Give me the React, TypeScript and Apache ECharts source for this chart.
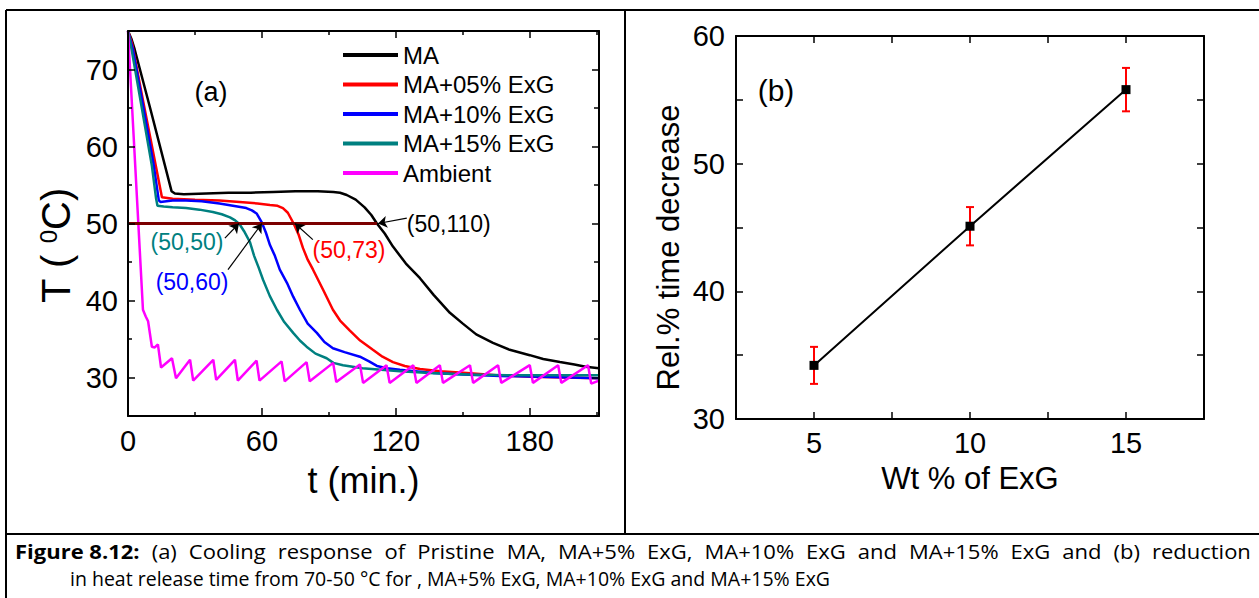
import React, { useEffect, useRef } from 'react';
import * as echarts from 'echarts';

// ---------- Panel (a): cooling curves ----------
const maTime = [0, 1.5, 3, 10, 19.5, 21, 25, 35, 45, 55, 65, 75, 85, 92, 95, 98, 102, 106, 109, 111.5, 115, 118.7, 124.5, 130.8, 137, 144.2, 150, 156, 163.5, 171, 180, 186, 193.5, 200, 205, 211];
const maTemp = [75, 74.0, 72.6, 64.9, 54.2, 53.9, 53.8, 53.9, 54.0, 54.0, 54.1, 54.2, 54.2, 54.1, 54.0, 53.7, 53.1, 52.1, 51.1, 50.0, 48.7, 47.0, 44.8, 42.9, 40.7, 38.4, 37.0, 35.6, 34.5, 33.6, 32.9, 32.4, 32.0, 31.7, 31.4, 31.2];

const ma05Time = [0, 1.8, 6.7, 13, 15.2, 20, 30, 41, 50, 58, 63.6, 67, 69.4, 71.6, 74.2, 76.5, 78.4, 80.5, 82.9, 87.4, 91.8, 95, 99.4, 104, 109.7, 114, 118.7, 124, 130.8, 140, 151.8, 165, 181, 195, 211];
const ma05Temp = [75, 73.4, 66.0, 56.7, 53.4, 53.2, 53.1, 53.0, 52.8, 52.6, 52.4, 52.3, 52.0, 51.4, 50.0, 48.5, 46.8, 45.3, 44.0, 41.4, 38.8, 37.4, 36.1, 34.8, 33.6, 32.7, 32.0, 31.5, 31.1, 30.8, 30.6, 30.3, 30.1, 30.0, 29.9];

const ma10Time = [0, 2.2, 11.4, 13.8, 14.5, 20, 26, 33, 41, 47, 53, 55.5, 57.6, 60, 61.8, 63.6, 65.8, 68, 71.2, 74, 77, 80.5, 84.6, 88, 91.8, 97, 103.9, 108, 111.5, 116, 121.8, 136.6, 150, 166.6, 185, 211];
const ma10Temp = [75, 72.6, 57.8, 53.0, 52.8, 53.0, 53.0, 52.9, 52.6, 52.3, 52.0, 51.7, 51.3, 50.1, 48.8, 47.2, 45.8, 44.0, 42.3, 40.5, 38.8, 37.0, 35.8, 34.6, 33.8, 33.3, 32.7, 32.1, 31.5, 31.2, 31.0, 30.6, 30.4, 30.2, 30.1, 29.9];

const ma15Time = [0, 1.8, 10.7, 12.6, 13.2, 16, 20, 26, 32, 38, 42, 45.7, 48, 50, 52, 54.6, 56.5, 58.5, 60.5, 63.5, 66.7, 70, 74, 77, 80, 84, 89, 92, 96.3, 105, 121.8, 135, 151.8, 170, 190, 211];
const ma15Temp = [75, 72.3, 57.5, 53.2, 52.3, 52.2, 52.1, 52.0, 51.8, 51.5, 51.2, 50.8, 50.4, 49.9, 49.0, 47.6, 45.8, 44.3, 42.7, 40.6, 38.8, 37.2, 35.8, 34.8, 34.0, 33.1, 32.5, 31.9, 31.6, 31.2, 30.8, 30.6, 30.4, 30.3, 30.3, 30.3];

const ambTime = [0, 6.7, 8, 9, 10.7, 12, 13.4, 14.8, 19.7, 21.5, 27.8, 29.2, 38.2, 39.5, 47.9, 49.2, 57.6, 58.9, 68.8, 70.2, 80.0, 81.4, 91.9, 93.3, 103.9, 105.3, 115.8, 117.2, 127.8, 129.2, 139.7, 141.1, 153.2, 154.6, 165.8, 167.2, 180, 181.4, 192.7, 194.1, 206.1, 207.5, 211];
const ambTemp = [75, 38.8, 37.9, 37.3, 34.0, 33.9, 34.3, 31.3, 32.5, 29.9, 32.3, 29.6, 32.3, 29.7, 32.3, 29.6, 32.2, 29.6, 32.1, 29.5, 32.0, 29.5, 31.9, 29.4, 31.7, 29.3, 31.6, 29.3, 31.6, 29.3, 31.6, 29.3, 31.6, 29.3, 31.6, 29.3, 31.6, 29.3, 31.6, 29.3, 31.6, 29.2, 29.6];

const refTime = [0, 111.5];
const refTemp = [50, 50];

const seriesNames = ['MA', 'MA+05% ExG', 'MA+10% ExG', 'MA+15% ExG', 'Ambient'];
const seriesColors = ['#000000', '#ff0000', '#0000ff', '#008080', '#ff00ff'];

const xTicksA = [60, 120, 180];
const xLabelsA = [0, 60, 120, 180];
const xMinorA = [30, 90, 150, 210];
const yTicksA = [30, 40, 50, 60, 70];
const yMinorA = [35, 45, 55, 65];

// ---------- Panel (b): relative time decrease ----------
const wtPercent = [5, 10, 15];
const relDecrease = [34.2, 45.1, 55.8];
const relError = [1.45, 1.5, 1.7];
const xTicksB = [5, 7.5, 10, 12.5, 15];
const xLabelsB = [5, 10, 15];
const yTicksB = [35, 40, 45, 50, 55];
const yLabelsB = [30, 40, 50, 60];

// ---------- Caption ----------
const captionLead = 'Figure 8.12:';
const captionLine1Words = ['(a)', 'Cooling', 'response', 'of', 'Pristine', 'MA,', 'MA+5%', 'ExG,', 'MA+10%', 'ExG', 'and', 'MA+15%', 'ExG', 'and', '(b)', 'reduction'];
const captionLine2 = 'in heat release time from 70-50 °C for , MA+5% ExG, MA+10% ExG and MA+15% ExG';

const FONT = 'Liberation Sans, Arial, Helvetica, sans-serif';
const CAPTION_FONT = 'Open Sans, Noto Sans, sans-serif';

const zip = (a: number[], b: number[]) => a.map((v, i) => [v, b[i]]);

function makeAxis(o: any) {
  return {
    type: 'value',
    gridIndex: o.grid,
    position: o.position,
    min: o.min,
    max: o.max,
    axisLine: { show: o.line !== false, onZero: false, lineStyle: { color: '#000', width: 2 } },
    axisTick: {
      show: true,
      inside: true,
      length: o.len,
      customValues: o.ticks,
      lineStyle: { color: '#000', width: 1.5 },
    },
    axisLabel: o.labels
      ? { show: true, customValues: o.labels, fontSize: 29, color: '#000', fontFamily: FONT, margin: o.margin ?? 10 }
      : { show: false },
    splitLine: { show: false },
    minorTick: { show: false },
    name: o.name,
    nameLocation: 'middle',
    nameGap: o.nameGap,
    nameTextStyle: o.nameStyle,
    z: 5,
  };
}

const App: React.FC = () => {
  const ref = useRef<HTMLDivElement>(null);

  useEffect(() => {
    if (!ref.current) return;
    const chart = echarts.init(ref.current, undefined, { renderer: 'svg' });

    const curveTimes = [maTime, ma05Time, ma10Time, ma15Time, ambTime];
    const curveTemps = [maTemp, ma05Temp, ma10Temp, ma15Temp, ambTemp];

    const curveSeries = seriesNames.map((name, i) => ({
      name,
      type: 'line',
      xAxisIndex: 0,
      yAxisIndex: 0,
      data: zip(curveTimes[i], curveTemps[i]),
      showSymbol: false,
      symbol: 'none',
      color: seriesColors[i],
      lineStyle: { color: seriesColors[i], width: 2.5 },
      z: 2,
    }));

    const annotations = [
      { text: '(50,50)', color: '#008080', label: [26.4, 47.6], from: [43.4, 48.1], to: [49.7, 50] },
      { text: '(50,60)', color: '#0000ff', label: [28.7, 42.4], from: [44.8, 44.0], to: [60, 50] },
      { text: '(50,73)', color: '#ff0000', label: [99, 46.6], from: [82.8, 47.9], to: [74.8, 50] },
      { text: '(50,110)', color: '#000000', label: [143.7, 49.9], from: [124.9, 50.7], to: [112, 50] },
    ];

    const refSeries = {
      name: '50 line',
      type: 'line',
      xAxisIndex: 0,
      yAxisIndex: 0,
      data: zip(refTime, refTemp),
      showSymbol: false,
      symbol: 'none',
      lineStyle: { color: '#7b0000', width: 3 },
      z: 4,
      markLine: {
        silent: true,
        symbol: ['none', 'arrow'],
        symbolSize: 9,
        lineStyle: { color: '#000', width: 1.2, type: 'solid' },
        label: { show: false },
        emphasis: { disabled: true },
        data: annotations.map((a) => [{ coord: a.from }, { coord: a.to }]),
      },
      markPoint: {
        silent: true,
        symbol: 'rect',
        symbolSize: 1,
        itemStyle: { color: 'rgba(0,0,0,0)' },
        data: annotations.map((a) => ({
          coord: a.label,
          label: { show: true, position: 'inside', formatter: a.text, color: a.color, fontSize: 23, fontFamily: FONT },
        })),
      },
    };

    const errSeries = {
      name: 'error',
      type: 'custom',
      xAxisIndex: 4,
      yAxisIndex: 4,
      data: wtPercent.map((x, i) => [x, relDecrease[i] - relError[i], relDecrease[i] + relError[i]]),
      encode: { x: 0, y: [1, 2] },
      z: 2,
      renderItem: (_p: any, api: any) => {
        const x = api.value(0);
        const lo = api.coord([x, api.value(1)]);
        const hi = api.coord([x, api.value(2)]);
        const hw = 4;
        const style = { stroke: '#ff0000', lineWidth: 2 };
        return {
          type: 'group',
          children: [
            { type: 'line', shape: { x1: lo[0], y1: lo[1], x2: hi[0], y2: hi[1] }, style },
            { type: 'line', shape: { x1: lo[0] - hw, y1: lo[1], x2: lo[0] + hw, y2: lo[1] }, style },
            { type: 'line', shape: { x1: hi[0] - hw, y1: hi[1], x2: hi[0] + hw, y2: hi[1] }, style },
          ],
        };
      },
    };

    const relSeries = {
      name: 'Rel',
      type: 'line',
      xAxisIndex: 4,
      yAxisIndex: 4,
      data: zip(wtPercent, relDecrease),
      symbol: 'rect',
      symbolSize: 9,
      itemStyle: { color: '#000' },
      lineStyle: { color: '#000', width: 2 },
      z: 3,
    };

    const frame = { stroke: '#000', lineWidth: 2 };
    const capSize = 20;
    // justified first caption line: slightly widened word gaps
    const line1Text = '{b|' + captionLead + '}{s| }' + captionLine1Words.join('{s| }');

    chart.setOption({
      animation: false,
      textStyle: { fontFamily: FONT },
      grid: [
        { left: 128, top: 31, width: 471, height: 385 },
        { left: 736, top: 36, width: 468, height: 383 },
      ],
      legend: {
        data: seriesNames,
        orient: 'vertical',
        left: 338,
        top: 38,
        icon: 'rect',
        itemWidth: 55,
        itemHeight: 4,
        itemGap: 5.5,
        selectedMode: false,
        textStyle: { fontSize: 24, color: '#000', fontFamily: FONT, lineHeight: 24 },
      },
      xAxis: [
        makeAxis({ grid: 0, position: 'bottom', min: 0, max: 211, ticks: xTicksA, labels: xLabelsA, len: 8,
          name: 't (min.)', nameGap: 46, nameStyle: { fontSize: 36, color: '#000', fontFamily: FONT } }),
        makeAxis({ grid: 0, position: 'bottom', min: 0, max: 211, ticks: xMinorA, len: 4, line: false }),
        makeAxis({ grid: 0, position: 'top', min: 0, max: 211, ticks: xTicksA, len: 7 }),
        makeAxis({ grid: 0, position: 'top', min: 0, max: 211, ticks: xMinorA, len: 4, line: false }),
        makeAxis({ grid: 1, position: 'bottom', min: 2.5, max: 17.5, ticks: xTicksB, labels: xLabelsB, len: 7, margin: 9,
          name: 'Wt % of ExG', nameGap: 44, nameStyle: { fontSize: 31, color: '#000', fontFamily: FONT } }),
        makeAxis({ grid: 1, position: 'top', min: 2.5, max: 17.5, ticks: xTicksB, len: 7 }),
      ],
      yAxis: [
        makeAxis({ grid: 0, position: 'left', min: 25, max: 75, ticks: yTicksA, labels: yTicksA, len: 7,
          name: '{m|T ( }{s|0}{m|C)}', nameGap: 52,
          nameStyle: {
            color: '#000', fontSize: 40, fontFamily: FONT, padding: [0, 44, 0, 0],
            rich: {
              m: { fontSize: 40, fontFamily: FONT, color: '#000' },
              s: { fontSize: 24, fontFamily: FONT, color: '#000', verticalAlign: 'top' },
            },
          } }),
        makeAxis({ grid: 0, position: 'left', min: 25, max: 75, ticks: yMinorA, len: 4, line: false }),
        makeAxis({ grid: 0, position: 'right', min: 25, max: 75, ticks: yTicksA, len: 7 }),
        makeAxis({ grid: 0, position: 'right', min: 25, max: 75, ticks: yMinorA, len: 5, line: false }),
        makeAxis({ grid: 1, position: 'left', min: 30, max: 60, ticks: yTicksB, labels: yLabelsB, len: 7, margin: 11,
          name: 'Rel.% time decrease', nameGap: 52,
          nameStyle: { fontSize: 31, color: '#000', fontFamily: FONT, padding: [0, 40, 0, 0] } }),
        makeAxis({ grid: 1, position: 'right', min: 30, max: 60, ticks: yTicksB, len: 7 }),
      ],
      series: [...curveSeries, refSeries, errSeries, relSeries],
      graphic: [
        { type: 'line', shape: { x1: 6, y1: 10, x2: 1259, y2: 10 }, style: frame, silent: true },
        { type: 'line', shape: { x1: 6, y1: 10, x2: 6, y2: 598 }, style: frame, silent: true },
        { type: 'line', shape: { x1: 625, y1: 10, x2: 625, y2: 534 }, style: frame, silent: true },
        { type: 'line', shape: { x1: 6, y1: 534, x2: 1259, y2: 534 }, style: frame, silent: true },
        { type: 'text', x: 211, y: 92, silent: true,
          style: { text: '(a)', fontSize: 27, fontFamily: FONT, fill: '#000', align: 'center', verticalAlign: 'middle' } },
        { type: 'text', x: 776, y: 90, silent: true,
          style: { text: '(b)', fontSize: 30, fontFamily: FONT, fill: '#000', align: 'center', verticalAlign: 'middle' } },
        { type: 'text', x: 15, y: 551, scaleX: 1.1, silent: true,
          style: {
            text: line1Text,
            fontSize: capSize, fontFamily: CAPTION_FONT, fill: '#000', verticalAlign: 'middle',
            rich: {
              b: { fontWeight: 'bold', fontSize: capSize, fontFamily: CAPTION_FONT, fill: '#000' },
              s: { width: 10.9, fontSize: capSize, fontFamily: CAPTION_FONT },
            },
          } },
        { type: 'text', x: 70, y: 578, silent: true,
          style: {
            text: captionLine2,
            fontSize: 19.5, fontFamily: CAPTION_FONT, fill: '#000', verticalAlign: 'middle',
          } },
      ],
    });

    return () => chart.dispose();
  }, []);

  return <div ref={ref} style={{ position: 'absolute', left: 0, top: 0, width: 1259, height: 598, background: '#fff' }} />;
};

export default App;
